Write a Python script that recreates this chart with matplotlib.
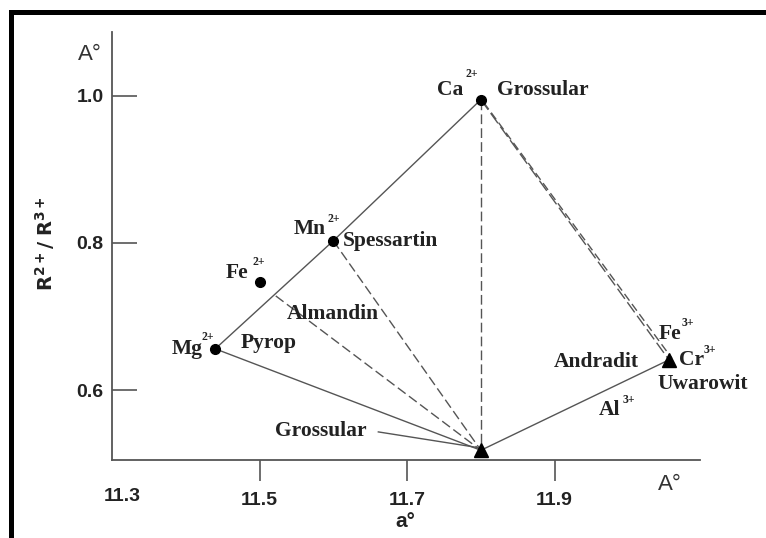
import matplotlib
matplotlib.use('Agg')
import matplotlib.pyplot as plt
from matplotlib.patches import Rectangle

# end members (a0 in Angstrom, R2+/R3+ ratio)
cation_names = ['Ca', 'Mn', 'Fe', 'Mg']
cation_a = [11.80, 11.60, 11.50, 11.44]
cation_r = [0.995, 0.803, 0.747, 0.656]

# triangle points: Al3+ (Grossular base) and Fe3+/Cr3+ (Andradit/Uwarowit)
tri_names = ['Al', 'FeCr']
tri_a = [11.80, 12.055]
tri_r = [0.518, 0.641]

# Almandin tie line starts on the Mg-Mn line
alm_a = 11.522
alm_r = 0.728

x_ticks = [11.5, 11.7, 11.9]
y_ticks = [0.6, 0.8, 1.0]

line_col = '#555555'
text_col = '#222222'
serif = 'Liberation Serif'
sans = 'Liberation Sans'

fig = plt.figure(figsize=(7.66, 5.38), dpi=100)
ax = fig.add_axes([0.1462, 0.145, 0.7676, 0.7955])
ax.set_xlim(11.3, 12.097)
ax.set_ylim(0.5048, 1.087)

ca = (cation_a[0], cation_r[0])
mn = (cation_a[1], cation_r[1])
mg = (cation_a[3], cation_r[3])
al = (tri_a[0], tri_r[0])
fc = (tri_a[1], tri_r[1])

dash = (7, 3)
# solid lines
ax.plot([mg[0], mn[0], ca[0]], [mg[1], mn[1], ca[1]], color=line_col, lw=1.0)
ax.plot([mg[0], al[0], fc[0]], [mg[1], al[1], fc[1]], color=line_col, lw=1.0)
# dashed tie lines to the base
for p in [ca, mn, (alm_a, alm_r)]:
    ax.plot([p[0], al[0]], [p[1], al[1]], color=line_col, lw=1.0, dashes=dash)
# double dashed line Ca -> Fe/Cr
ax.plot([ca[0], fc[0]], [ca[1], fc[1]], color=line_col, lw=1.0, dashes=(9, 3))
ax.plot([ca[0] + 0.004, fc[0] + 0.004], [ca[1] - 0.004, fc[1] + 0.002],
        color=line_col, lw=1.0, dashes=(6, 3))

# markers
ax.plot(cation_a, cation_r, 'o', color='black', ms=7, zorder=5)
ax.plot(tri_a, tri_r, '^', color='black', ms=10, zorder=5, clip_on=False)

# labels
main_labels = [
    ('Ca', 11.759, 1.008), ('Grossular', 11.884, 1.008),
    ('Mn', 11.568, 0.819), ('Spessartin', 11.677, 0.803),
    ('Fe', 11.470, 0.759), ('Almandin', 11.600, 0.703),
    ('Mg', 11.402, 0.656), ('Pyrop', 11.512, 0.664),
    ('Grossular', 11.583, 0.544),
    ('Fe', 12.056, 0.676), ('Cr', 12.085, 0.641),
    ('Andradit', 11.956, 0.638), ('Uwarowit', 12.101, 0.608),
    ('Al', 11.975, 0.573),
]
sup_labels = [
    ('2+', 11.788, 1.030), ('2+', 11.601, 0.833), ('2+', 11.499, 0.774),
    ('2+', 11.430, 0.672), ('3+', 12.080, 0.691), ('3+', 12.110, 0.654),
    ('3+', 12.000, 0.586),
]
for t, x, y in main_labels:
    ax.text(x, y, t, family=serif, weight='bold', fontsize=15.5, color=text_col,
            ha='center', va='center')
for t, x, y in sup_labels:
    ax.text(x, y, t, family=serif, weight='bold', fontsize=8.5, color=text_col,
            ha='center', va='center')
# leader line for lower Grossular
ax.plot([11.661, 11.794], [0.543, 0.522], color=line_col, lw=1.0)

# axes styling
for s in ['top', 'right']:
    ax.spines[s].set_visible(False)
for s in ['left', 'bottom']:
    ax.spines[s].set_color(line_col)
    ax.spines[s].set_linewidth(1.3)
ax.set_xticks(x_ticks)
ax.set_yticks(y_ticks)
ax.set_yticklabels(['%.1f' % v for v in y_ticks])
ax.tick_params(axis='x', direction='out', length=15, width=1.2, color=line_col, pad=8)
ax.tick_params(axis='y', direction='in', length=18, width=1.2, color=line_col, pad=6)
for lab in ax.get_xticklabels() + ax.get_yticklabels():
    lab.set_family(sans)
    lab.set_weight('bold')
    lab.set_fontsize(14)
    lab.set_color(text_col)
ax.text(11.3135, 0.5048 - 0.0375, '11.3', family=sans, weight='bold',
        fontsize=14, color=text_col, ha='center', va='top')

# unit labels
fig.text(0.1175, 0.898, 'A°', family=sans, fontsize=16, color='#333333', ha='center', va='center')
fig.text(0.875, 0.100, 'A°', family=sans, fontsize=16, color='#333333', ha='center', va='center')
fig.text(0.529, 0.030, 'a°', family=sans, weight='bold', fontsize=15, color=text_col,
         ha='center', va='center')
fig.text(0.059, 0.548, r'$\mathbf{R^{2+}/\ R^{3+}}$', fontsize=14, color=text_col,
         rotation=90, ha='center', va='center')

# partial black frame (top and left)
fig.add_artist(Rectangle((9 / 766, 1 - 15 / 538), 1, 5 / 538, transform=fig.transFigure,
                         color='black', lw=0))
fig.add_artist(Rectangle((9 / 766, 0), 5 / 766, 1 - 10 / 538, transform=fig.transFigure,
                         color='black', lw=0))

fig.savefig('out.png', dpi=100)
